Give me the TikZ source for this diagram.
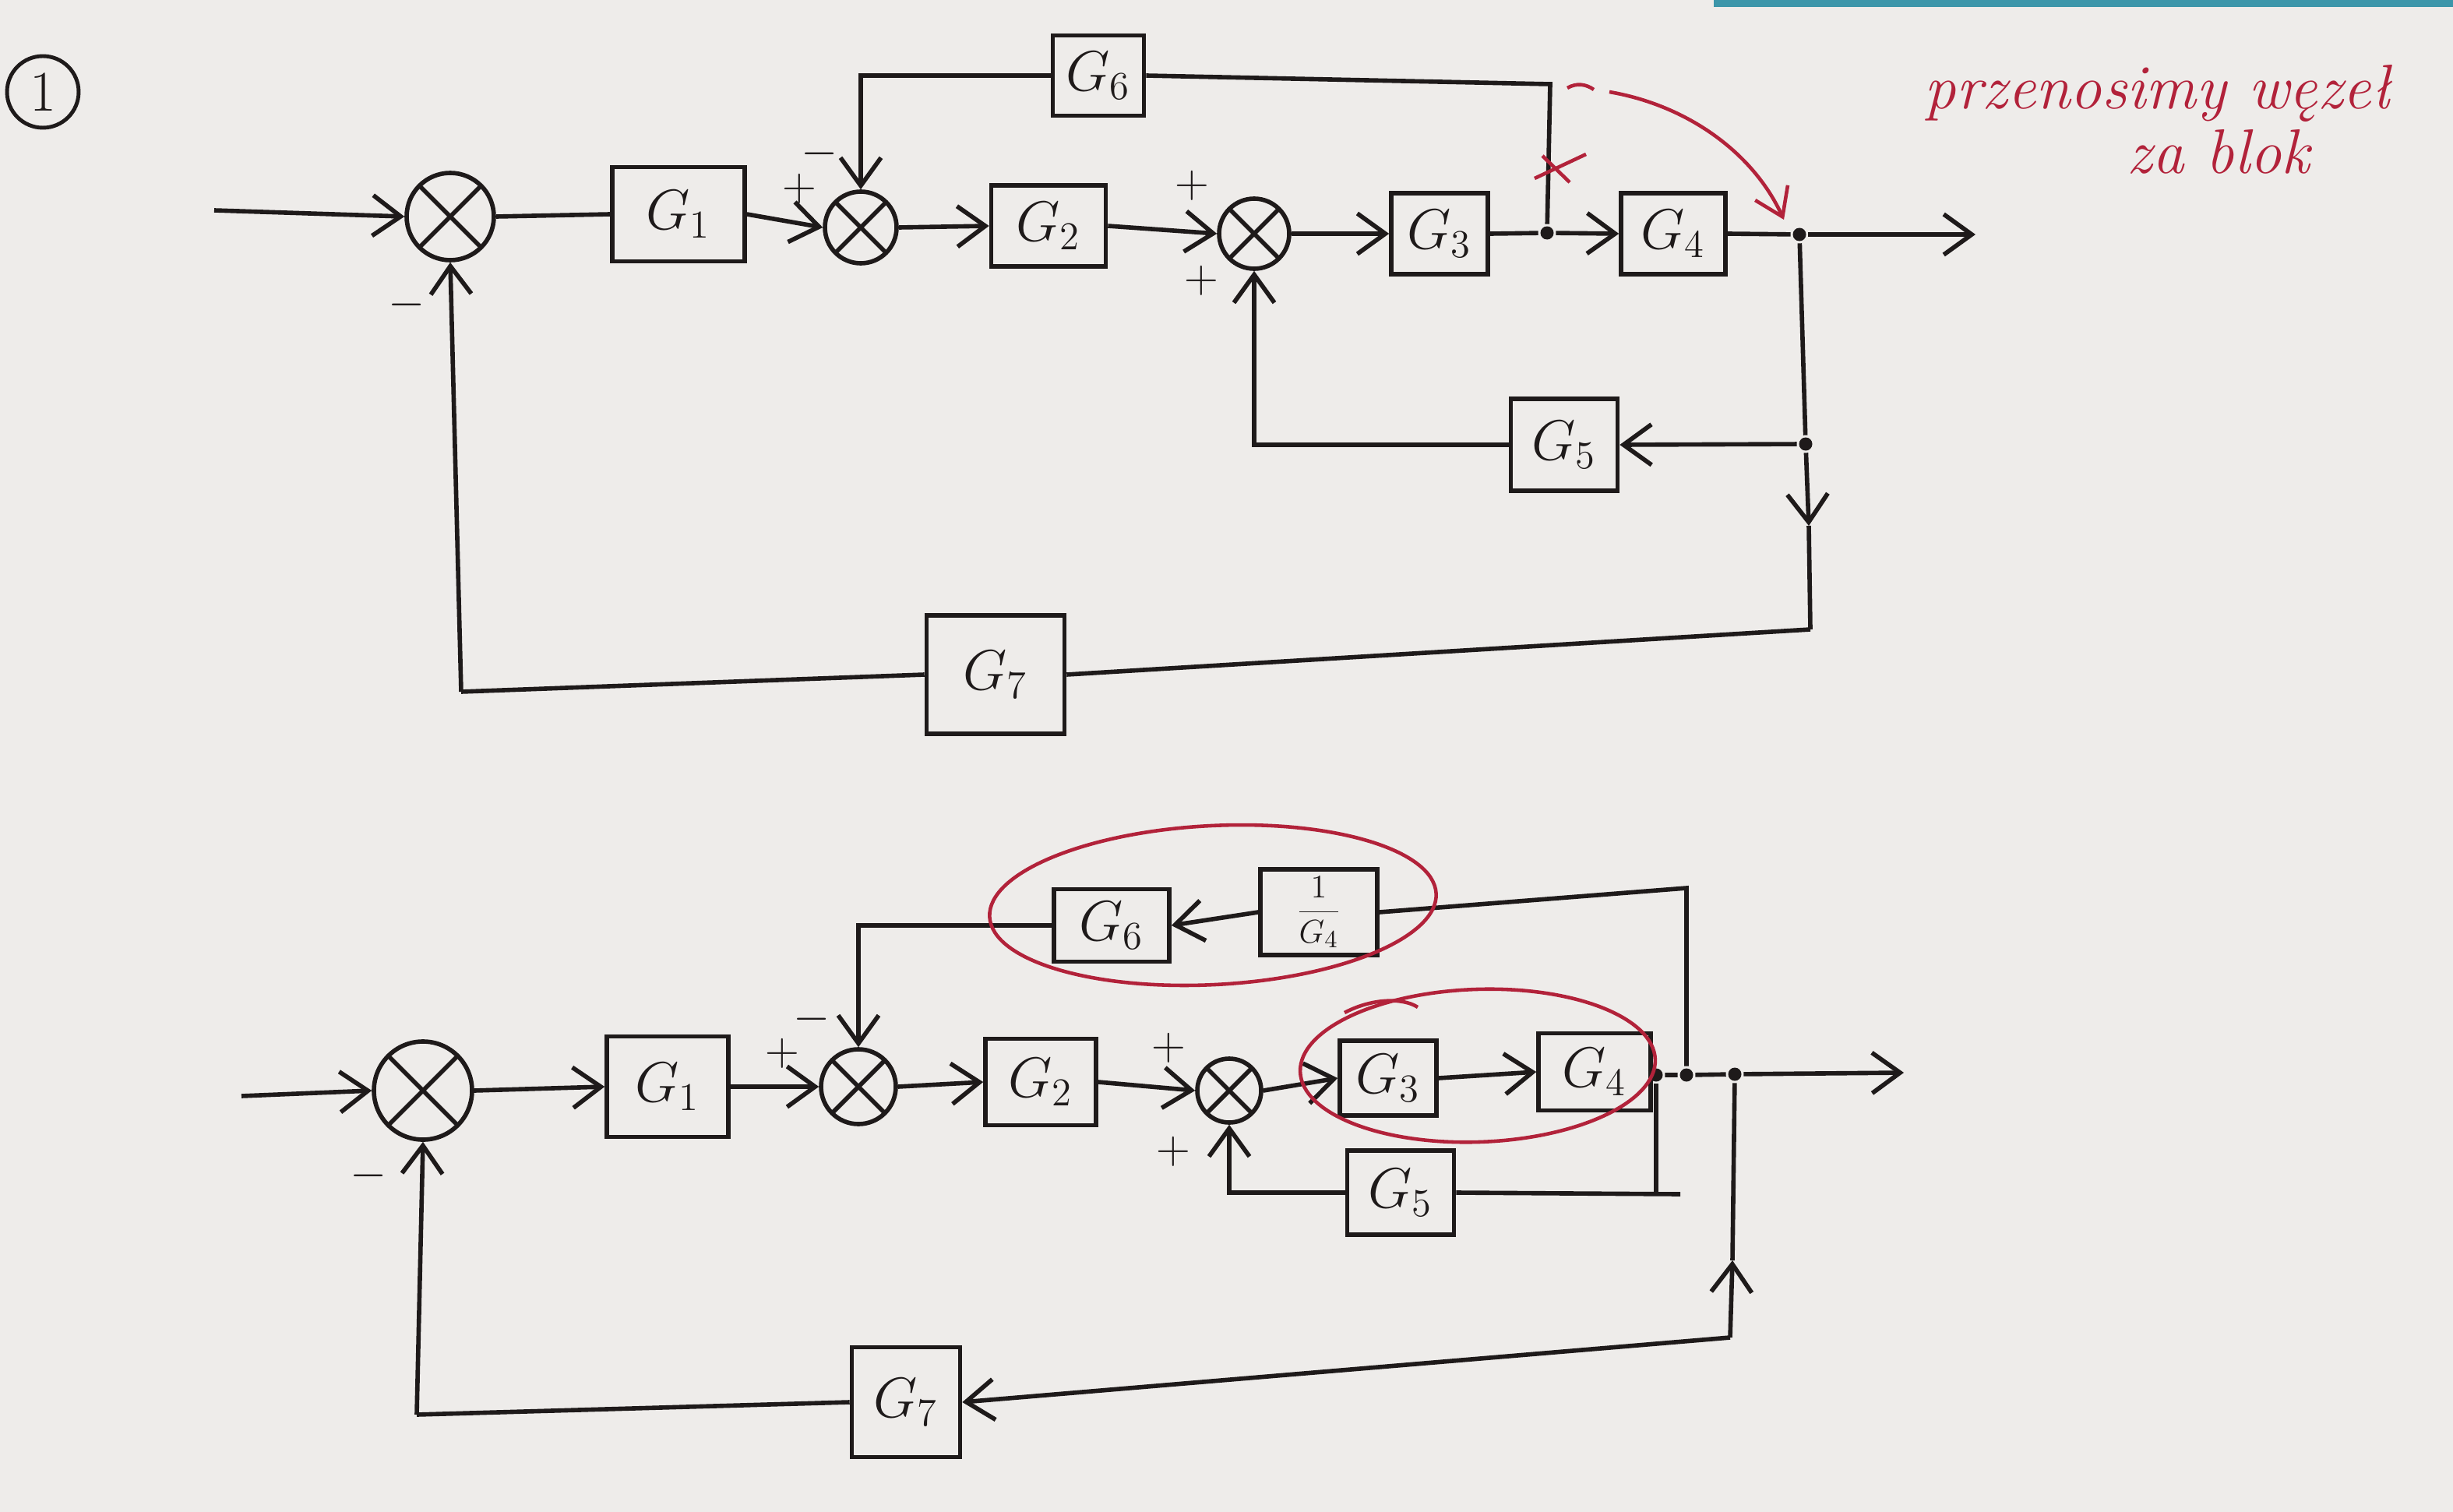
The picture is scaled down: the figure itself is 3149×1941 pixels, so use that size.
\documentclass[tikz,border=0pt]{standalone}
\usepackage{fontspec}
\usetikzlibrary{arrows.meta}
\definecolor{paper}{RGB}{238,236,234}
\definecolor{ink}{RGB}{30,26,26}
\definecolor{redpen}{RGB}{178,34,58}
\definecolor{band}{RGB}{60,150,170}
\begin{document}
\begin{tikzpicture}[x=0.1mm,y=-0.1mm, color=ink, line width=1.6pt,
  blk/.style={draw=ink, line width=1.6pt, inner sep=0pt, text=ink, font=\fontsize{21}{24}\selectfont},
  sumnode/.style={circle, draw=ink, line width=1.6pt, inner sep=0pt,
    path picture={\draw[line width=1.6pt, ink] (path picture bounding box.south west) -- (path picture bounding box.north east)
      (path picture bounding box.north west) -- (path picture bounding box.south east);}},
  jdot/.style={circle, fill=ink, inner sep=0pt, minimum size=1.7mm},
  arr/.style={-{Straight Barb[length=3.6mm,width=5.2mm,line width=1.6pt]}},
  lbl/.style={text=ink, font=\fontsize{18}{20}\selectfont},
  rpen/.style={draw=redpen, line width=1.3pt},
  rtext/.style={text=redpen, font=\fontsize{23}{26}\selectfont\itshape}
]
\useasboundingbox (0,0) rectangle (3149,1941);
\fill[paper] (0,0) rectangle (3149,1941);
\fill[band] (2200,0) rectangle (3149,9);

% ---------- number ----------
\node[circle, draw=ink, line width=1.4pt, minimum size=8.8mm, text=ink, font=\fontsize{21}{24}\selectfont] (num) at (55,118) {1};

% ================= TOP DIAGRAM =================
\coordinate (in1) at (275,270);
\node[sumnode, minimum size=11.2mm] (s1) at (578,278) {};
\node[blk, minimum width=17mm, minimum height=12.1mm] (g1) at (871,275) {$G_1$};
\node[sumnode, minimum size=9.2mm] (s2) at (1105,292) {};
\node[blk, minimum width=11.7mm, minimum height=10.3mm] (g6) at (1410,97) {$G_6$};
\node[blk, minimum width=14.7mm, minimum height=10.4mm] (g2) at (1346,290) {$G_2$};
\node[sumnode, minimum size=9mm] (s3) at (1610,300) {};
\node[blk, minimum width=12.4mm, minimum height=10.4mm] (g3) at (1848,300) {$G_3$};
\node[jdot] (j1) at (1986,299) {};
\node[blk, minimum width=13.4mm, minimum height=10.4mm] (g4) at (2148,300) {$G_4$};
\node[jdot] (j2) at (2310,301) {};
\coordinate (out1) at (2536,301);
\node[jdot] (j3) at (2318,570) {};
\node[blk, minimum width=13.7mm, minimum height=11.8mm] (g5) at (2008,571) {$G_5$};
\coordinate (c6) at (1990,108);
\coordinate (mid1) at (2322,675);
\coordinate (cb) at (2324,808);
\node[blk, minimum width=17.7mm, minimum height=15.2mm] (g7) at (1278,866) {$G_7$};
\coordinate (c7) at (592,888);

\draw[arr] (in1) -- (s1.west);
\draw (s1.east) -- (g1.west);
\draw[arr] (g1.east) -- (s2.west);
\draw[arr] (g6.west) -| (s2.north);
\draw (g6.east) -- (c6) -- (j1);
\draw[arr] (s2.east) -- (g2.west);
\draw[arr] (g2.east) -- (s3.west);
\draw[arr] (s3.east) -- (g3.west);
\draw (g3.east) -- (j1);
\draw[arr] (j1) -- (g4.west);
\draw (g4.east) -- (j2);
\draw[arr] (j2) -- (out1);
\draw (j2) -- (j3);
\draw[arr] (j3) -- (g5.east);
\draw[arr] (g5.west) -| (s3.south);
\draw[arr] (j3) -- (mid1);
\draw (mid1) -- (cb);
\draw (cb) -- (g7.east);
\draw (g7.west) -- (c7);
\draw[arr] (c7) -- (s1.south);

\node[lbl] (m1) at (522,391) {$-$};
\node[lbl] (p2) at (1026,242) {$+$};
\node[lbl] (m2) at (1052,197) {$-$};
\node[lbl] (p3a) at (1530,238) {$+$};
\node[lbl] (p3b) at (1542,360) {$+$};

% red marks (top)
\draw[rpen] (1970,229) -- (2036,198);
\draw[rpen] (1980,200) -- (2015,234);
\draw[rpen] (2012,113) .. controls (2024,106) and (2036,108) .. (2046,115);
\coordinate (rstart) at (2066,118);
\coordinate (rend) at (2290,282);
\draw[rpen, -{Straight Barb[length=3.4mm,width=4.6mm,line width=1.3pt]}] (rstart) .. controls (2165,135) and (2250,195) .. (rend);
\node[rtext, anchor=base] (t1) at (2770,140) {przenosimy węzeł};
\node[rtext, anchor=base] (t2) at (2848,222) {za blok};

% ================= BOTTOM DIAGRAM =================
\coordinate (in2) at (310,1407);
\node[sumnode, minimum size=12.6mm] (b1) at (543,1400) {};
\node[blk, minimum width=15.6mm, minimum height=12.9mm] (h1) at (857,1395) {$G_1$};
\node[sumnode, minimum size=9.6mm] (b2) at (1102,1395) {};
\node[blk, minimum width=14.8mm, minimum height=9.3mm] (h6) at (1427,1188) {$G_6$};
\node[blk, minimum width=15mm, minimum height=11mm, font=\fontsize{13}{16}\selectfont] (h4i) at (1693,1171) {$\displaystyle\frac{1}{G_4}$};
\node[blk, minimum width=14.2mm, minimum height=11.1mm] (h2) at (1336,1389) {$G_2$};
\node[sumnode, minimum size=8.2mm] (b3) at (1578,1400) {};
\node[blk, minimum width=12.4mm, minimum height=9.6mm] (h3) at (1782,1384) {$G_3$};
\node[blk, minimum width=14.4mm, minimum height=9.9mm] (h4) at (2047,1376) {$G_4$};
\node[jdot] (k1) at (2126,1380) {};
\node[jdot] (k2) at (2165,1380) {};
\node[jdot] (k3) at (2227,1379) {};
\coordinate (out2) at (2444,1377);
\node[blk, minimum width=13.7mm, minimum height=10.8mm] (h5) at (1798,1531) {$G_5$};
\coordinate (h5end) at (2157,1533);
\coordinate (k2t) at (2165,1140);
\coordinate (k3m) at (2224,1618);
\coordinate (k3b) at (2221,1717);
\node[blk, minimum width=13.9mm, minimum height=14.1mm] (h7) at (1163,1800) {$G_7$};
\coordinate (c7b) at (535,1816);

\draw[arr] (in2) -- (b1.west);
\draw[arr] (b1.east) -- (h1.west);
\draw[arr] (h1.east) -- (b2.west);
\draw[arr] (h6.west) -| (b2.north);
\draw[arr] (h4i.west) -- (h6.east);
\draw (k2) -- (k2t) -- (h4i.east);
\draw[arr] (b2.east) -- (h2.west);
\draw[arr] (h2.east) -- (b3.west);
\draw[arr] (b3.east) -- (h3.west);
\draw[arr] (h3.east) -- (h4.west);
\draw (h4.east) -- (k1) -- (k2) -- (k3);
\draw[arr] (k3) -- (out2);
\draw (k1) -- (k1 |- h5end);
\draw (h5.east) -- (h5end);
\draw[arr] (h5.west) -| (b3.south);
\draw[arr] (k3b) -- (k3m);
\draw (k3m) -- (k3);
\draw[arr] (k3b) -- (h7.east);
\draw (h7.west) -- (c7b);
\draw[arr] (c7b) -- (b1.south);

\node[lbl] (bm1) at (473,1509) {$-$};
\node[lbl] (bp2) at (1004,1352) {$+$};
\node[lbl] (bm2) at (1042,1308) {$-$};
\node[lbl] (bp3a) at (1500,1345) {$+$};
\node[lbl] (bp3b) at (1506,1478) {$+$};

% red ellipses (bottom)
\draw[rpen, rotate around={3:(1557,1162)}] (1557,1162) ellipse [x radius=28.7mm, y radius=10.2mm];
\draw[rpen, rotate around={2:(1897,1368)}] (1897,1368) ellipse [x radius=22.8mm, y radius=9.8mm];
\draw[rpen] (1726,1300) .. controls (1760,1282) and (1800,1280) .. (1820,1293);
\end{tikzpicture}
\end{document}
